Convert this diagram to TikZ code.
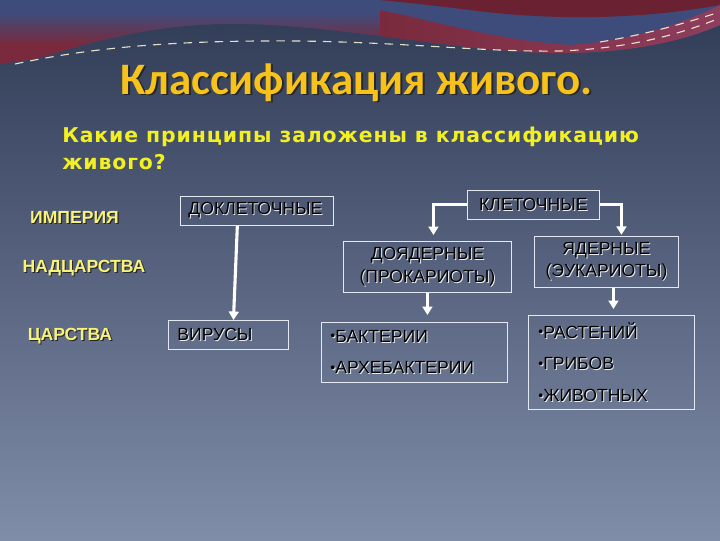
\documentclass[tikz,border=0pt]{standalone}
\usepackage{fontspec}
\setmainfont{Liberation Sans}
\newfontfamily\titlefont{Carlito}
\newfontfamily\askfont[LetterSpace=4.4]{DejaVu Sans}
\usepackage{xcolor}
\usetikzlibrary{arrows.meta, positioning}

\definecolor{bgtop}{HTML}{2F3A55}
\definecolor{bgmid}{HTML}{56627E}
\definecolor{bgbot}{HTML}{808DA8}
\definecolor{waveblue}{HTML}{3E4C7C}
\definecolor{wavered}{HTML}{7A2A3C}
\definecolor{wavedark}{HTML}{6A2232}
\definecolor{wavepink}{HTML}{8E3E5E}
\definecolor{titlegold}{HTML}{F7C31A}
\definecolor{askyellow}{HTML}{F2F020}
\definecolor{lvlyellow}{HTML}{F8F27A}
\definecolor{boxline}{HTML}{E4E8F0}

% black text with a white edge (boxes), coloured text with a dark shadow (labels)
\newcommand{\emb}[1]{\makebox[0pt][l]{\hspace{0.7pt}\raisebox{-0.7pt}{\color{white!85!gray}#1}}#1}
\newcommand{\shd}[2][0.8pt]{\makebox[0pt][l]{\hspace{#1}\raisebox{-#1}{\color{black!85}#2}}#2}
\newcommand{\bul}{{\fontsize{10}{10}\selectfont\raisebox{1pt}{•}}}

\begin{document}
\begin{tikzpicture}[x=0.025cm, y=-0.025cm, >={Triangle[width=7pt,length=6pt]},
    box/.style={draw=boxline, line width=0.6pt, anchor=north west, inner ysep=0pt,
        text=black, font=\fontsize{12.5}{15}\selectfont},
    lvl/.style={text=lvlyellow, font=\bfseries\fontsize{12.5}{15}\selectfont},
    arr/.style={->, draw=white, line width=2.2pt},
    wavedash/.style={draw=white!85!yellow, line width=0.8pt, dash pattern=on 6pt off 5pt, opacity=0.85}]

    \useasboundingbox (0,0) rectangle (720,540);

    % ==========================================
    % Background and waves
    % ==========================================
    \shade[top color=bgtop, middle color=bgmid, bottom color=bgbot] (0,0) rectangle (720,540);
    \begin{scope}
        \clip (0,0) -- (720,0) -- (720,25) .. controls (690,38) and (640,53) .. (560,53)
            .. controls (480,53) and (400,36) .. (300,27) .. controls (220,20) and (150,22) .. (40,58)
            -- (0,64) -- cycle;
        \fill[waveblue] (0,0) rectangle (720,70);
        \shade[top color=waveblue, bottom color=wavered] (0,12) rectangle (420,45);
        \fill[wavered] (0,45) rectangle (420,70);
        \fill[wavedark] (380,0) -- (720,0) -- (720,5) .. controls (650,18) and (560,22) .. (470,10)
            .. controls (430,5) and (400,2) .. (380,0) -- cycle;
        \shade[left color=wavered, right color=wavepink] (380,10) .. controls (450,25) and (500,40) .. (570,45)
            .. controls (640,40) and (690,20) .. (720,5) -- (720,70) -- (380,70) -- cycle;
    \end{scope}
    \draw[wavedash] (15,64) .. controls (90,48) and (170,40) .. (300,41)
        .. controls (420,43) and (480,52) .. (560,51) .. controls (640,48) and (690,30) .. (720,18);
    \draw[wavedash] (600,42) .. controls (660,32) and (700,18) .. (720,12);

    % ==========================================
    % Title and question
    % ==========================================
    \node[text=titlegold, font=\titlefont\bfseries\fontsize{32}{36}\selectfont, anchor=base west, inner sep=0pt]
        (title) at (120,94) {\shd[1.4pt]{Классификация живого.}};
    \node[text=askyellow, font=\askfont\bfseries\fontsize{14.5}{19.1}\selectfont, anchor=base west, align=left, inner sep=0pt]
        (ask) at (62,169) {Какие принципы заложены в классификацию\\живого?};

    % ==========================================
    % Levels
    % ==========================================
    \node[lvl] (imperia) at (74.5,218) {\shd{ИМПЕРИЯ}};
    \node[lvl] (nadcarstva) at (84,269) {\shd{НАДЦАРСТВА}};
    \node[lvl] (carstva) at (70,337) {\shd{ЦАРСТВА}};

    % ==========================================
    % Boxes
    % ==========================================
    \node[box, minimum width=3.825cm, minimum height=0.725cm, text width=3.425cm, inner xsep=0.2cm, align=left]
        (doklet) at (180,196) {\emb{ДОКЛЕТОЧНЫЕ}};
    \node[box, minimum width=3cm, minimum height=0.725cm, text width=2.55cm, inner xsep=0.225cm, align=left]
        (virusy) at (168,320) {\emb{ВИРУСЫ}};
    \node[box, minimum width=3.3cm, minimum height=0.725cm, text width=3.1cm, inner xsep=0.1cm, align=center]
        (klet) at (467,190) {\emb{КЛЕТОЧНЫЕ}};
    \node[box, minimum width=4.2cm, minimum height=1.275cm, text width=4cm, inner xsep=0.1cm, align=center,
        font=\fontsize{12.5}{16.3}\selectfont]
        (doyader) at (343,241) {\emb{ДОЯДЕРНЫЕ}\\\emb{(ПРОКАРИОТЫ)}};
    \node[box, minimum width=3.6cm, minimum height=1.275cm, text width=3.4cm, inner xsep=0.1cm, align=center,
        font=\fontsize{12.5}{15.6}\selectfont]
        (yader) at (534,236) {\emb{ЯДЕРНЫЕ}\\\emb{(ЭУКАРИОТЫ)}};
    \node[box, minimum width=4.65cm, minimum height=1.5cm, text width=4.2cm, inner xsep=0.225cm, align=left,
        font=\fontsize{12.5}{22.7}\selectfont]
        (bakter) at (321,322) {\emb{\bul БАКТЕРИИ}\\\emb{\bul АРХЕБАКТЕРИИ}};
    \node[box, minimum width=4.15cm, minimum height=2.35cm, text width=3.65cm, inner xsep=0.25cm, align=left,
        font=\fontsize{12.5}{22.5}\selectfont]
        (rasten) at (528,315) {\emb{\bul РАСТЕНИЙ}\\\emb{\bul ГРИБОВ}\\\emb{\bul ЖИВОТНЫХ}};

    % ==========================================
    % Arrows
    % ==========================================
    \draw[arr] ([xshift=-0.49cm]doklet.south) -- ([xshift=0.125cm]virusy.north);
    \draw[arr] (klet.west) -| ([shift={(0.15cm,0.15cm)}]doyader.north);
    \draw[arr] (klet.east) -| ([shift={(0.375cm,0.03cm)}]yader.north);
    \draw[arr, shorten >=0.175cm] (doyader.south) -- (doyader.south |- bakter.north);
    \draw[arr, shorten >=0.15cm] ([xshift=0.175cm]yader.south) -- ([xshift=0.175cm]yader.south |- rasten.north);

\end{tikzpicture}
\end{document}
